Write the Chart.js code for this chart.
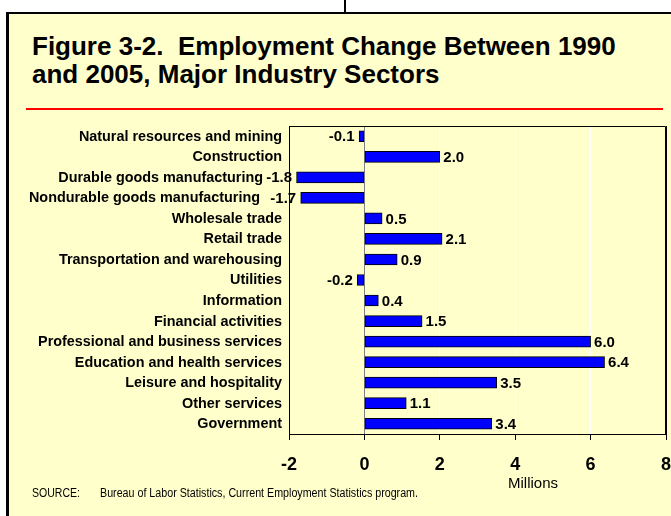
<!DOCTYPE html>
<html>
<head>
<meta charset="utf-8">
<script src="https://cdn.jsdelivr.net/npm/chart.js@4.4.1/dist/chart.umd.min.js"></script>
<style>
  html, body { margin: 0; padding: 0; background: #ffffff; }
  #wrap { position: relative; width: 671px; height: 516px; overflow: hidden; background: #ffffff; }
  #box { position: absolute; left: 6px; top: 12px; width: 720px; height: 600px; background: #FFFFCC;
         border-left: 3px solid #000; border-top: 2px solid #000; }
  #vline { position: absolute; left: 344px; top: 0; width: 2px; height: 13px; background: #000; }
  #title { position: absolute; left: 32px; top: 32px; font: bold 26px "Liberation Sans", Arial, sans-serif;
           line-height: 28px; color: #000; white-space: pre; }
  #rule { position: absolute; left: 26px; top: 108px; width: 637px; height: 2px; background: #ff0000; }
  #chart { position: absolute; left: 0; top: 0; }
  .txt { position: absolute; white-space: pre; color: #000; font-family: "Liberation Sans Narrow", "Liberation Sans", Arial, sans-serif; transform-origin: 0 50%; }
  #millions { position: absolute; top: 474px; left: 0; width: 1066px; text-align: center; font: 15px "Liberation Sans", Arial, sans-serif; color: #000; line-height: 18px; }
</style>
</head>
<body>
<div id="wrap">
  <div id="vline"></div>
  <div id="box"></div>
  <div id="title">Figure 3-2.  Employment Change Between 1990
and 2005, Major Industry Sectors</div>
  <div id="rule"></div>
  <canvas id="chart" width="671" height="516"></canvas>
  <div id="millions">Millions</div>
  <span class="txt" id="src1" style="left:32px; top:486px; font-size:12.5px; line-height:14px;">SOURCE:</span>
  <span class="txt" id="src2" style="left:100px; top:486px; font-size:12.5px; line-height:14px;">Bureau of Labor Statistics, Current Employment Statistics program.</span>
</div>
<script>
const categories = [
  "Natural resources and mining",
  "Construction",
  "Durable goods manufacturing",
  "Nondurable goods manufacturing",
  "Wholesale trade",
  "Retail trade",
  "Transportation and warehousing",
  "Utilities",
  "Information",
  "Financial activities",
  "Professional and business services",
  "Education and health services",
  "Leisure and hospitality",
  "Other services",
  "Government"
];
const changeMillions = [-0.14, 2.0, -1.8, -1.69, 0.47, 2.06, 0.87, -0.19, 0.37, 1.53, 6.0, 6.37, 3.51, 1.11, 3.38];
const xTickValues = [-2, 0, 2, 4, 6, 8];
const xAxisTitle = "Millions";

// fit narrow source text widths
function fitWidth(id, target) {
  const el = document.getElementById(id);
  const w = el.getBoundingClientRect().width;
  if (w > 0) el.style.transform = "scaleX(" + (target / w) + ")";
}
fitWidth("src1", 48);
fitWidth("src2", 318);

const FONT = '"Liberation Sans", Arial, sans-serif';
const labelShift = { 2: 19, 3: 22 };

const overlayPlugin = {
  id: 'overlay',
  afterDatasetsDraw(chart) {
    const ctx = chart.ctx;
    const ca = chart.chartArea;
    const yScale = chart.scales.y;
    ctx.save();
    // plot frame (top and right)
    ctx.strokeStyle = '#000';
    ctx.lineWidth = 1;
    ctx.beginPath();
    ctx.moveTo(ca.left, ca.top + 0.5);
    ctx.lineTo(ca.right - 0.5, ca.top + 0.5);
    ctx.lineTo(ca.right - 0.5, ca.bottom);
    ctx.stroke();

    // category labels
    ctx.fillStyle = '#000';
    ctx.font = 'bold 14.4px ' + FONT;
    ctx.textAlign = 'right';
    ctx.textBaseline = 'middle';
    categories.forEach((c, i) => {
      const y = yScale.getPixelForValue(i);
      ctx.fillText(c, 282 - (labelShift[i] || 0), y + 0.5);
    });

    // data labels
    const meta = chart.getDatasetMeta(0);
    ctx.font = 'bold 15px ' + FONT;
    meta.data.forEach((bar, i) => {
      const v = changeMillions[i];
      const txt = v.toFixed(1);
      if (v >= 0) {
        ctx.textAlign = 'left';
        ctx.fillText(txt, bar.x + 3.5, bar.y + 1);
      } else {
        ctx.textAlign = 'right';
        ctx.fillText(txt, bar.x - 4.5, bar.y + 1);
      }
    });
    ctx.restore();
  }
};

new Chart(document.getElementById('chart'), {
  type: 'bar',
  data: {
    labels: categories,
    datasets: [{
      data: changeMillions,
      backgroundColor: '#0000FF',
      borderColor: '#000000',
      borderWidth: 1,
      borderSkipped: false,
      barThickness: 11
    }]
  },
  options: {
    indexAxis: 'y',
    responsive: false,
    animation: false,
    devicePixelRatio: 1,
    layout: { padding: { left: 289, top: 126, right: 5, bottom: 0 } },
    plugins: {
      legend: { display: false },
      tooltip: { enabled: false },
      title: { display: false }
    },
    scales: {
      y: {
        type: 'category',
        ticks: { display: false },
        grid: { display: false, drawTicks: false },
        border: { display: true, color: '#000', width: 1 },
        afterFit(s) { s.width = 0; s.paddingTop = 0; s.paddingBottom = 0; }
      },
      x: {
        min: -2,
        max: 8,
        afterBuildTicks(s) { s.ticks = xTickValues.map(v => ({ value: v })); },
        ticks: {
          color: '#000',
          font: { family: FONT, size: 18, weight: 'bold' },
          padding: 14,
          maxRotation: 0,
          autoSkip: false
        },
        grid: {
          color(ctx) {
            const v = ctx.tick ? ctx.tick.value : null;
            if (v === 0) return '#808080';
            if (v === -2 || v === 8) return '#000000';
            return '#ffffff';
          },
          lineWidth: 1,
          tickLength: 6,
          tickColor: '#000000'
        },
        border: { display: true, color: '#000', width: 1 },
        afterFit(s) { s.height = 82; s.paddingLeft = 0; s.paddingRight = 0; }
      }
    }
  },
  plugins: [overlayPlugin]
});
</script>
</body>
</html>
